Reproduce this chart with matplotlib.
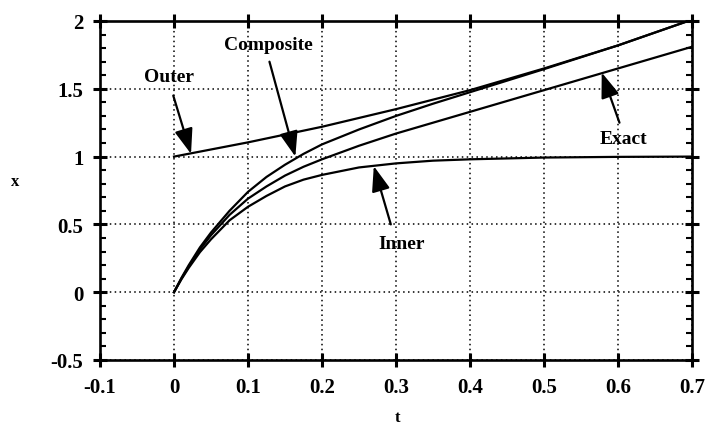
import matplotlib
matplotlib.use("Agg")
import matplotlib.pyplot as plt
from matplotlib.ticker import MultipleLocator

# values
t_vals = [0, 0.01, 0.02, 0.035, 0.05, 0.075, 0.1, 0.125, 0.15, 0.175, 0.2, 0.25, 0.3, 0.35, 0.4, 0.5, 0.6, 0.7]
composite = [0, 0.105, 0.20, 0.33, 0.44, 0.60, 0.74, 0.85, 0.94, 1.02, 1.09, 1.20, 1.30, 1.39, 1.475, 1.645, 1.82, 2.01]
inner = [0, 0.095, 0.18, 0.295, 0.39, 0.53, 0.63, 0.71, 0.78, 0.83, 0.865, 0.92, 0.95, 0.97, 0.98, 0.993, 0.998, 1.0]
exact = [0, 0.10, 0.19, 0.315, 0.42, 0.57, 0.69, 0.78, 0.86, 0.925, 0.98, 1.08, 1.17, 1.25, 1.33, 1.49, 1.65, 1.81]
outer_t = [0, 0.1, 0.2, 0.3, 0.4, 0.5, 0.6, 0.7]
outer = [1.0, 1.105, 1.22, 1.35, 1.49, 1.65, 1.82, 2.01]

x_ticks = [-0.1, 0, 0.1, 0.2, 0.3, 0.4, 0.5, 0.6, 0.7]
x_ticklabels = ["-0.1", "0", "0.1", "0.2", "0.3", "0.4", "0.5", "0.6", "0.7"]
y_ticks = [-0.5, 0, 0.5, 1, 1.5, 2]
y_ticklabels = ["-0.5", "0", "0.5", "1", "1.5", "2"]

FONT = "Liberation Serif"

fig = plt.figure(figsize=(7.10, 4.27), dpi=100)
ax = fig.add_axes([100 / 710, 66 / 427, 592 / 710, 339 / 427])

for s in ax.spines.values():
    s.set_linewidth(1.9)

ax.set_xlim(-0.1, 0.7)
ax.set_ylim(-0.5, 2)
ax.set_xticks(x_ticks)
ax.set_xticklabels(x_ticklabels)
ax.set_yticks(y_ticks)
ax.set_yticklabels(y_ticklabels)
ax.yaxis.set_minor_locator(MultipleLocator(0.1))

ax.tick_params(which="major", direction="inout", length=10, width=2.2,
               top=True, right=True, labelsize=15, pad=7)
ax.tick_params(axis="y", which="minor", direction="in", length=4.5, width=1.5,
               left=True, right=True)
ax.tick_params(axis="x", which="minor", bottom=False, top=False)
for lab in ax.get_xticklabels() + ax.get_yticklabels():
    lab.set_fontfamily(FONT)
    lab.set_fontweight("bold")

ax.grid(True, which="major", color="black", linestyle=(0, (1, 2.2)), linewidth=1.1)
ax.set_axisbelow(True)

# curves
lw = 1.6
ax.plot(outer_t, outer, color="black", lw=lw, zorder=3)
ax.plot(t_vals, composite, color="black", lw=lw, zorder=3)
ax.plot(t_vals, inner, color="black", lw=lw, zorder=3)
ax.plot(t_vals, exact, color="black", lw=lw, zorder=3)

# labels with arrows
arrow_kw = dict(arrowstyle="-|>,head_length=1.1,head_width=0.4", color="black",
                lw=1.6, shrinkA=0, shrinkB=0, mutation_scale=14)
txt_kw = dict(fontsize=14, fontweight="bold", family=FONT, ha="center", va="center")

ax.annotate("", xy=(0.023, 1.02), xytext=(-0.001, 1.45), arrowprops=arrow_kw, zorder=4)
ax.text(-0.007, 1.59, "Outer", **txt_kw)

ax.annotate("", xy=(0.164, 1.0), xytext=(0.129, 1.70), arrowprops=arrow_kw, zorder=4)
ax.text(0.128, 1.83, "Composite", **txt_kw)

ax.annotate("", xy=(0.27, 0.93), xytext=(0.293, 0.50), arrowprops=arrow_kw, zorder=4)
ax.text(0.307, 0.36, "Inner", **txt_kw)

ax.annotate("", xy=(0.578, 1.62), xytext=(0.602, 1.25), arrowprops=arrow_kw, zorder=4)
ax.text(0.607, 1.13, "Exact", **txt_kw)

ax.set_xlabel("t", fontsize=12, fontweight="bold", family=FONT)
ax.set_ylabel("x", fontsize=12, fontweight="bold", family=FONT, rotation=0)
ax.xaxis.set_label_coords(0.502, -0.168)
ax.xaxis.label.set_va("center")
ax.yaxis.set_label_coords(-0.144, 0.528)
ax.yaxis.label.set_va("center")
ax.yaxis.label.set_ha("center")

fig.savefig("out.png", dpi=100, facecolor="white")
